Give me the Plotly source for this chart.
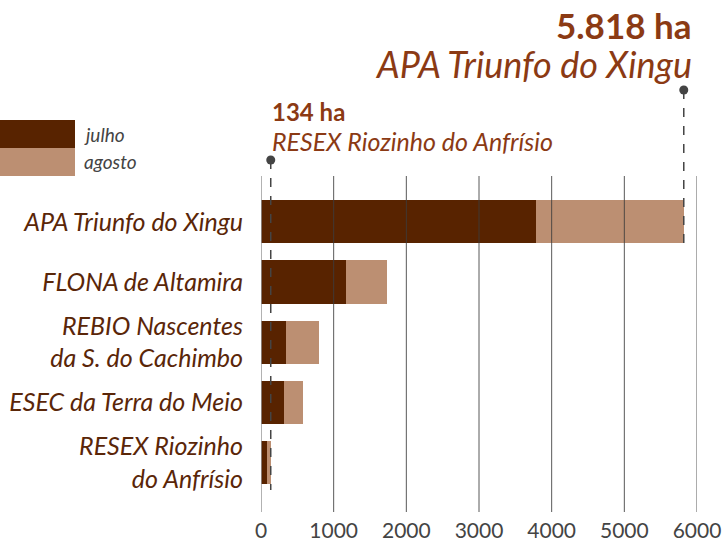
import plotly.graph_objects as go

categories = ["APA Triunfo do Xingu", "FLONA de Altamira", "REBIO Nascentes<br>da S. do Cachimbo",
              "ESEC da Terra do Meio", "RESEX Riozinho<br>do Anfrísio"]
julho = [3790, 1174, 348, 321, 84]
agosto = [2028, 560, 454, 257, 50]
ticks = [0, 1000, 2000, 3000, 4000, 5000, 6000]

totals = [j + a for j, a in zip(julho, agosto)]

W, H = 723, 545
L, R, T, B = 261, 26, 176, 33


def px(x):
    return (x - L) / (W - L - R)


def py(y):
    return (H - B - y) / (H - T - B)


DARK = "#582300"
LIGHT = "#bc8f72"
LABEL = "#5a2608"
ACCENT = "#8b3a14"
FONT = "Lato"

fig = go.Figure()
fig.add_trace(go.Bar(y=categories, x=julho, orientation="h", marker_color=DARK,
                     marker_line_width=0, name="julho"))
fig.add_trace(go.Bar(y=categories, x=agosto, orientation="h", marker_color=LIGHT,
                     marker_line_width=0, name="agosto"))

shapes = []
# grid lines drawn above the bars
for t in ticks:
    shapes.append(dict(type="line", xref="x", yref="paper", x0=t, x1=t, y0=0, y1=1,
                       line=dict(color="#999999" if t == 0 else "rgba(60,60,60,0.85)",
                                 width=1.5 if t == 0 else 1), layer="above"))

# callouts for largest and smallest
hi = totals.index(max(totals))
lo = totals.index(min(totals))
for idx, top, bottom in [(hi, py(90), py(243)), (lo, py(160), py(490))]:
    shapes.append(dict(type="line", xref="x", yref="paper", x0=totals[idx], x1=totals[idx],
                       y0=top, y1=bottom, line=dict(color="#444444", width=1.5, dash="dash"),
                       layer="above"))
    shapes.append(dict(type="circle", xref="x", yref="paper", xsizemode="pixel", ysizemode="pixel",
                       xanchor=totals[idx], yanchor=top, x0=-4.5, x1=4.5, y0=-4.5, y1=4.5,
                       fillcolor="#444444", line_width=0, layer="above"))

# legend boxes
shapes.append(dict(type="rect", xref="paper", yref="paper", x0=px(0), x1=px(75), y0=py(148), y1=py(120),
                   fillcolor=DARK, line_width=0))
shapes.append(dict(type="rect", xref="paper", yref="paper", x0=px(0), x1=px(75), y0=py(176), y1=py(148),
                   fillcolor=LIGHT, line_width=0))

annotations = [
    dict(text="julho", xref="paper", yref="paper", x=px(82), y=py(134), xanchor="left", yanchor="middle",
         showarrow=False, font=dict(family=FONT, size=19, color="#444444", style="italic")),
    dict(text="agosto", xref="paper", yref="paper", x=px(82), y=py(162), xanchor="left", yanchor="middle",
         showarrow=False, font=dict(family=FONT, size=19, color="#444444", style="italic")),
    dict(text="<b>%s ha</b>" % f"{totals[hi]:,}".replace(",", "."), xref="paper", yref="paper",
         x=px(694), y=py(25), xanchor="right", yanchor="middle", showarrow=False,
         font=dict(family=FONT, size=35, color=ACCENT, weight=900)),
    dict(text="APA Triunfo do Xingu", xref="paper", yref="paper",
         x=px(694), y=py(64), xanchor="right", yanchor="middle", showarrow=False,
         font=dict(family=FONT, size=36, color=ACCENT, style="italic")),
    dict(text="<b>%d ha</b>" % totals[lo], xref="paper", yref="paper",
         x=px(270), y=py(111), xanchor="left", yanchor="middle", showarrow=False,
         font=dict(family=FONT, size=24, color=ACCENT, weight=900)),
    dict(text="RESEX Riozinho do Anfrísio", xref="paper", yref="paper",
         x=px(270), y=py(141), xanchor="left", yanchor="middle", showarrow=False,
         font=dict(family=FONT, size=25, color=ACCENT, style="italic")),
]

fig.update_layout(
    barmode="stack",
    bargap=0.28,
    width=W, height=H,
    margin=dict(l=L, r=R, t=T, b=B, pad=0),
    paper_bgcolor="white",
    plot_bgcolor="white",
    showlegend=False,
    shapes=shapes,
    annotations=annotations,
    xaxis=dict(range=[0, 6000], tickvals=ticks, showgrid=False, zeroline=False, automargin=False,
               showline=False, ticks="", ticklabelstandoff=4,
               tickfont=dict(family=FONT, size=21, color="#444444")),
    yaxis=dict(range=[4.82, -0.76], showgrid=False, zeroline=False, showline=False, ticks="",
               automargin=False, ticklabelstandoff=17,
               tickfont=dict(family=FONT, size=25, color=LABEL, style="italic")),
)

# drop the browser's default body margin so the figure fills the window
fig.write_html("out.html", config={"displayModeBar": False},
               post_script="document.body.style.margin='0px';")
